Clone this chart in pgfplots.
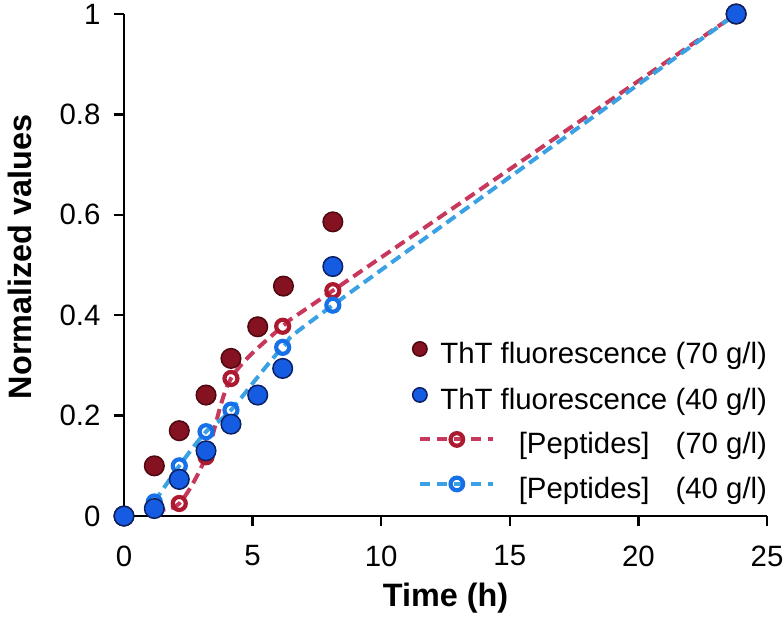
\documentclass[border=0pt]{standalone}
\usepackage{pgfplots}
\pgfplotsset{compat=1.18}
\usepackage{fontspec}
\setmainfont{Liberation Sans}

\definecolor{thtred}{RGB}{132,18,32}
\definecolor{thtrededge}{RGB}{80,8,16}
\definecolor{thtblue}{RGB}{22,92,226}
\definecolor{thtblueedge}{RGB}{12,32,100}
\definecolor{pepred}{RGB}{200,56,92}
\definecolor{pepredmk}{RGB}{172,26,48}
\definecolor{pepblue}{RGB}{58,162,228}
\definecolor{pepbluemk}{RGB}{22,112,232}

\begin{document}
\begin{tikzpicture}
\begin{axis}[
  scale only axis,
  width=643bp, height=502bp,
  xmin=0, xmax=25, ymin=0, ymax=1,
  xtick={0,5,10,15,20,25},
  ytick={0,0.2,0.4,0.6,0.8,1},
  axis x line=bottom, axis y line=left,
  axis line style={-, line width=2.5bp},
  tick style={line width=2.5bp, black},
  tick align=outside,
  major tick length=10bp,
  clip=false,
  /pgf/number format/assume math mode=true,
  ticklabel style={font=\fontsize{29.5}{33}\selectfont},
  xticklabel style={yshift=-16bp},
  yticklabel style={xshift=-10bp},
  xlabel={Time (h)},
  ylabel={Normalized values},
  xlabel style={font=\fontsize{32.5}{36}\selectfont\bfseries, at={(rel axis cs:0.5,-0.164)}, anchor=center},
  ylabel style={font=\fontsize{32.5}{36}\selectfont\bfseries, at={(rel axis cs:-0.1617,0.516)}, anchor=center},
  legend cell align=right,
  legend style={draw=none, fill=none, inner sep=0pt, outer sep=0pt,
    at={(rel axis cs:1.0,0.3486)}, anchor=north east,
    font=\fontsize{29.5}{32}\selectfont,
    nodes={inner sep=0pt, text height=21bp, text depth=6bp},
    row sep=17.5bp, column sep=12.5bp},
]
% legend entries first
\addlegendimage{legend image code/.code={
  \draw[fill=thtred, draw=thtrededge, line width=1.5bp] (0bp,7bp) circle (7.2bp);}}
\addlegendentry{ThT fluorescence (70 g/l)}
\addlegendimage{legend image code/.code={
  \draw[fill=thtblue, draw=thtblueedge, line width=1.5bp] (0bp,7bp) circle (7.2bp);}}
\addlegendentry{ThT fluorescence (40 g/l)}
\addlegendimage{legend image code/.code={
  \draw[overlay, pepred, line width=4bp, dash pattern=on 10bp off 7bp] (0bp,7bp) -- (73bp,7bp);
  \draw[overlay, pepredmk, line width=4.2bp] (37bp,7bp) circle (6.3bp);}}
\addlegendentry{[Peptides]\hspace*{26bp}(70 g/l)}
\addlegendimage{legend image code/.code={
  \draw[overlay, pepblue, line width=4bp, dash pattern=on 10bp off 7bp] (0bp,7bp) -- (73bp,7bp);
  \draw[overlay, pepbluemk, line width=4.2bp] (37bp,7bp) circle (6.3bp);}}
\addlegendentry{[Peptides]\hspace*{26bp}(40 g/l)}

% [Peptides] 70 g/l
\addplot[forget plot, pepred, line width=4bp, dash pattern=on 11bp off 6bp, smooth, tension=0.5,
  mark=o, mark size=6.5bp, mark options={solid, draw=pepredmk, line width=4.2bp}]
  coordinates {(1.18,0.012) (2.15,0.025) (3.19,0.118) (4.16,0.274) (6.17,0.378) (8.12,0.449) (23.8,1.0)};
% [Peptides] 40 g/l
\addplot[forget plot, pepblue, line width=4bp, dash pattern=on 11bp off 6bp, smooth, tension=0.5,
  mark=o, mark size=6.5bp, mark options={solid, draw=pepbluemk, line width=4.2bp}]
  coordinates {(1.18,0.028) (2.15,0.100) (3.19,0.168) (4.16,0.211) (6.17,0.336) (8.12,0.420) (23.8,1.0)};
% ThT 70 g/l
\addplot[forget plot, only marks, mark=*, mark size=9.8bp,
  mark options={fill=thtred, draw=thtrededge, line width=1.5bp}]
  coordinates {(0,0) (1.18,0.100) (2.15,0.170) (3.19,0.241) (4.16,0.314) (5.2,0.377) (6.2,0.458) (8.12,0.586) (23.8,1.0)};
% ThT 40 g/l
\addplot[forget plot, only marks, mark=*, mark size=9.8bp,
  mark options={fill=thtblue, draw=thtblueedge, line width=1.5bp}]
  coordinates {(0,0) (1.18,0.015) (2.15,0.073) (3.19,0.130) (4.16,0.183) (5.2,0.241) (6.17,0.294) (8.12,0.497) (23.8,1.0)};

\coordinate (bbl) at (rel axis cs:-0.1928,-0.2032);
\coordinate (btr) at (rel axis cs:1.0264,1.0279);
\end{axis}
\pgfresetboundingbox
\path (bbl) rectangle (btr);
\end{tikzpicture}
\end{document}
